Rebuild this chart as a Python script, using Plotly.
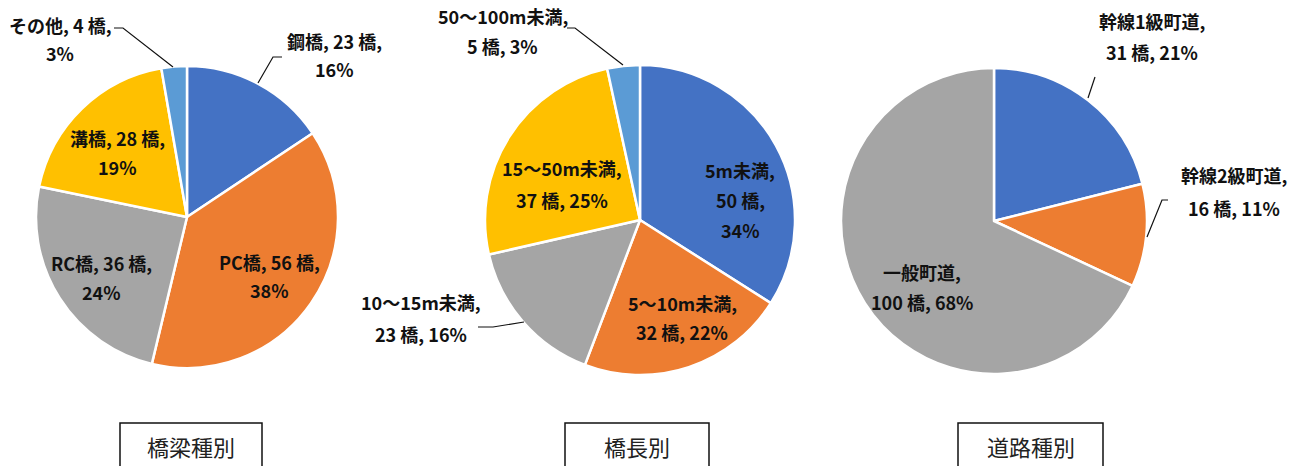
import plotly.graph_objects as go

W, H = 1302, 466

# ---------------- data ----------------
type_names = ["鋼橋", "PC橋", "RC橋", "溝橋", "その他"]
type_counts = [23, 56, 36, 28, 4]

length_names = ["5m未満", "5～10m未満", "10～15m未満", "15～50m未満", "50～100m未満"]
length_counts = [50, 32, 23, 37, 5]

road_names = ["幹線1級町道", "幹線2級町道", "一般町道"]
road_counts = [31, 16, 100]

chart_titles = ["橋梁種別", "橋長別", "道路種別"]
unit = "橋"

colors5 = ["#4472C4", "#ED7D31", "#A5A5A5", "#FFC000", "#5B9BD5"]

# ---------------- layout helpers (pixel coords -> paper) ----------------
def px(x):
    return x / W

def py(y):
    return 1 - y / H

FONT = "Noto Sans CJK JP"

fig = go.Figure()

# pie geometry (center x, center y, radius) in pixels
pies = [
    (type_names, type_counts, (187, 217, 151)),
    (length_names, length_counts, (640, 220, 155)),
    (road_names, road_counts, (994, 221, 153)),
]

for names, counts, (cx, cy, r) in pies:
    fig.add_trace(go.Pie(
        labels=names,
        values=counts,
        sort=False,
        direction="clockwise",
        rotation=0,
        marker=dict(colors=colors5[:len(names)], line=dict(color="white", width=2.5)),
        textinfo="none",
        hoverinfo="label+value+percent",
        showlegend=False,
        domain=dict(x=[px(cx - r), px(cx + r)], y=[py(cy + r), py(cy - r)]),
    ))

# label placements: (line-split mode, center x, first line y, line spacing)
label_layout = [
    [("nc|p", 335, 41, 28), ("nc|p", 269, 262, 28), ("nc|p", 102, 263, 29),
     ("nc|p", 117, 138, 29), ("nc|p", 60, 25, 28)],
    [("n|c|p", 740, 170, 30), ("n|cp", 682, 303, 29), ("n|cp", 421, 302, 32),
     ("n|cp", 562, 168, 32), ("n|cp", 503, 16, 30)],
    [("n|cp", 1152, 21, 31), ("n|cp", 1234, 175, 33), ("n|cp", 922, 272, 30)],
]

annotations = []
for (names, counts, _), lays in zip(pies, label_layout):
    total = sum(counts)
    for name, cnt, (mode, lx, ly, sp) in zip(names, counts, lays):
        pct = round(cnt / total * 100)
        n, c, p = f"{name},", f"{cnt} {unit},", f"{pct}%"
        if mode == "nc|p":
            lines = [f"{n} {c}", p]
        elif mode == "n|cp":
            lines = [n, f"{c} {p}"]
        else:
            lines = [n, c, p]
        for i, t in enumerate(lines):
            annotations.append(dict(
                x=px(lx), y=py(ly + i * sp), xref="paper", yref="paper",
                text=t, showarrow=False, xanchor="center", yanchor="middle",
                font=dict(family=FONT, size=18, color="#111111", weight="bold"),
            ))

# chart titles in boxes
title_boxes = [(120, 262), (565, 709), (958, 1103)]
shapes = []
for t, (x0, x1) in zip(chart_titles, title_boxes):
    annotations.append(dict(
        x=px((x0 + x1) / 2), y=py(446), xref="paper", yref="paper",
        text=t, showarrow=False, xanchor="center", yanchor="middle",
        font=dict(family=FONT, size=22, color="#222222"),
    ))
    shapes.append(dict(type="rect", xref="paper", yref="paper",
                       x0=px(x0), x1=px(x1), y0=py(480), y1=py(423),
                       line=dict(color="#111111", width=1.5)))

# leader lines
leaders = [
    [(258, 83), (273, 57), (282, 57)],
    [(114, 28), (123, 28), (173, 67)],
    [(567, 28), (575, 28), (623, 65)],
    [(478, 327), (493, 327), (524, 322)],
    [(1088, 98), (1095, 77)],
    [(1168, 200), (1162, 200), (1147, 237)],
]
for pts in leaders:
    path = "M " + " L ".join(f"{px(x)},{py(y)}" for x, y in pts)
    shapes.append(dict(type="path", xref="paper", yref="paper", path=path,
                       line=dict(color="#111111", width=1.2)))

fig.update_layout(
    width=W, height=H,
    margin=dict(l=0, r=0, t=0, b=0),
    paper_bgcolor="white", plot_bgcolor="white",
    annotations=annotations,
    shapes=shapes,
)

fig.write_html(
    "out.html",
    config={"displayModeBar": False},
    post_script="document.body.style.margin='0';document.body.style.overflow='hidden';",
)
